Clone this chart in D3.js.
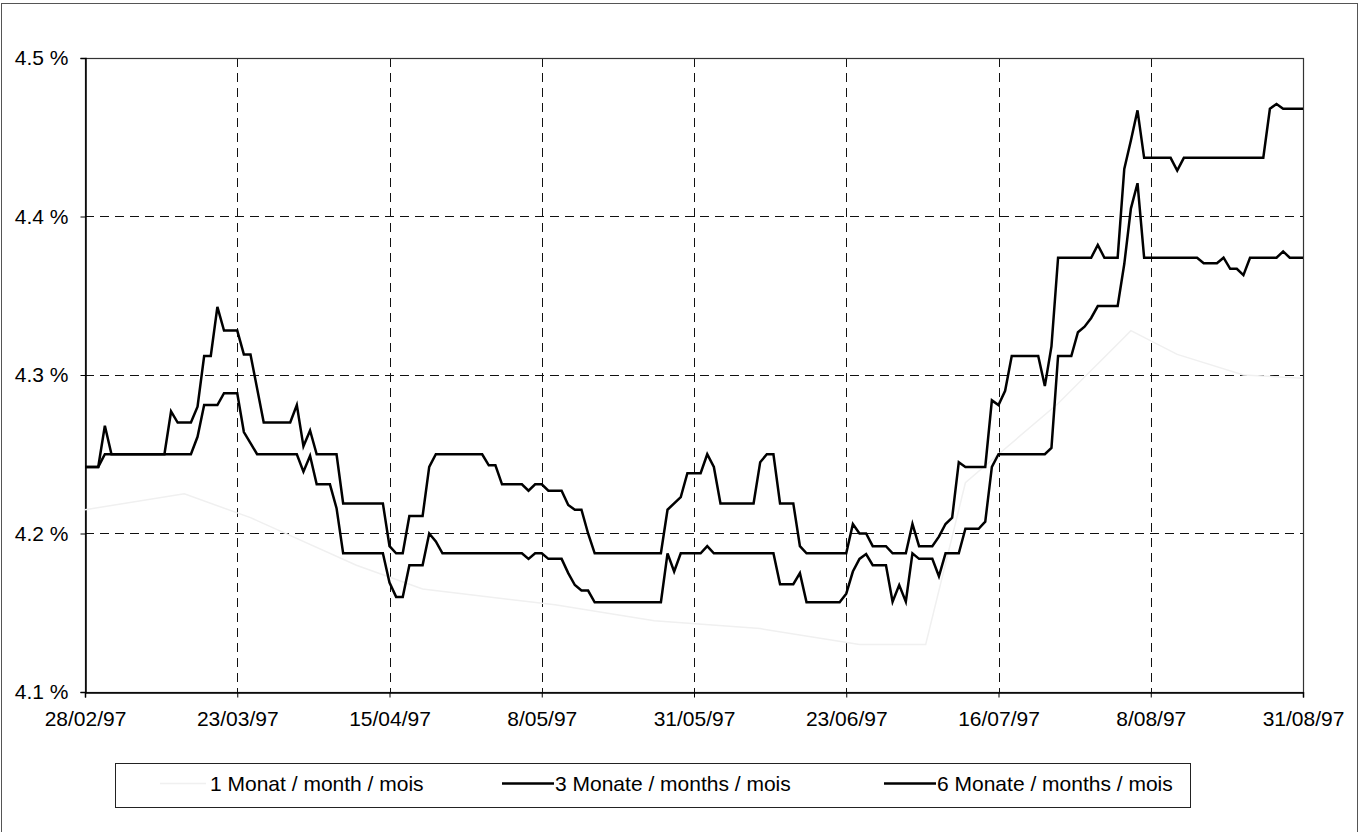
<!DOCTYPE html>
<html>
<head>
<meta charset="utf-8">
<script src="https://cdn.jsdelivr.net/npm/d3@7"></script>
<style>
  html, body { margin: 0; padding: 0; background: #fff; }
  svg { display: block; }
  text { font-family: "Liberation Sans", Arial, sans-serif; fill: #000; }
</style>
</head>
<body>
<svg id="chart" width="1371" height="832"></svg>
<script>
// ---- Data ----
const tickDates = ["28/02/97","23/03/97","15/04/97","8/05/97","31/05/97","23/06/97","16/07/97","8/08/97","31/08/97"];
const yTicks = [4.1, 4.2, 4.3, 4.4, 4.5];
const seriesNames = ["1 Monat / month / mois", "3 Monate / months / mois", "6 Monate / months / mois"];

const dates1m = ["28/02/97","15/03/97","25/03/97","10/04/97","20/04/97","10/05/97","25/05/97","10/06/97","25/06/97","05/07/97","11/07/97","16/07/97","25/07/97","05/08/97","12/08/97","22/08/97","31/08/97"];
const values1m = [4.215,4.225,4.21,4.18,4.165,4.155,4.145,4.14,4.13,4.13,4.232,4.25,4.282,4.328,4.313,4.30,4.298];

const dates3m = ["28/02/97","02/03/97","03/03/97","16/03/97","17/03/97","18/03/97","20/03/97","21/03/97","23/03/97","24/03/97","25/03/97","26/03/97",
  "01/04/97","02/04/97","03/04/97","04/04/97","06/04/97","07/04/97","08/04/97","14/04/97","15/04/97","16/04/97","17/04/97","18/04/97","20/04/97","21/04/97","22/04/97","23/04/97",
  "05/05/97","06/05/97","07/05/97","08/05/97","09/05/97","11/05/97","12/05/97","13/05/97","14/05/97","15/05/97","16/05/97","26/05/97","27/05/97","28/05/97","29/05/97",
  "01/06/97","02/06/97","03/06/97","12/06/97","13/06/97","15/06/97","16/06/97","17/06/97","22/06/97","23/06/97","24/06/97","25/06/97","26/06/97","27/06/97","29/06/97","30/06/97",
  "01/07/97","02/07/97","03/07/97","04/07/97","06/07/97","07/07/97","08/07/97","10/07/97","11/07/97","13/07/97","14/07/97","15/07/97","16/07/97","23/07/97","24/07/97","25/07/97","27/07/97","28/07/97","29/07/97","30/07/97","31/07/97",
  "03/08/97","04/08/97","05/08/97","06/08/97","07/08/97","15/08/97","16/08/97","18/08/97","19/08/97","20/08/97","21/08/97","22/08/97","23/08/97","27/08/97","28/08/97","29/08/97","31/08/97"];
const values3m = [4.242,4.242,4.25,4.25,4.261,4.281,4.281,4.2885,4.2885,4.264,4.257,4.25,
  4.25,4.239,4.249,4.231,4.231,4.216,4.1875,4.1875,4.169,4.16,4.16,4.18,4.18,4.2,4.195,4.1875,
  4.1875,4.184,4.1875,4.1875,4.184,4.184,4.175,4.1675,4.164,4.164,4.1566,4.1566,4.1875,4.176,4.1875,
  4.1875,4.192,4.1875,4.1875,4.168,4.168,4.175,4.1566,4.1566,4.162,4.176,4.184,4.187,4.18,4.18,4.157,
  4.1675,4.157,4.1875,4.184,4.184,4.173,4.1875,4.1875,4.203,4.203,4.2075,4.242,4.25,4.25,4.254,4.312,4.312,4.327,4.3305,4.336,4.3435,
  4.3435,4.37,4.405,4.421,4.374,4.374,4.3705,4.3705,4.374,4.367,4.367,4.363,4.374,4.374,4.378,4.374,4.374];

const dates6m = ["28/02/97","02/03/97","03/03/97","04/03/97","12/03/97","13/03/97","14/03/97","16/03/97","17/03/97","18/03/97","19/03/97","20/03/97","21/03/97","23/03/97","24/03/97","25/03/97","27/03/97","31/03/97",
  "01/04/97","02/04/97","03/04/97","04/04/97","07/04/97","08/04/97","14/04/97","15/04/97","16/04/97","17/04/97","18/04/97","20/04/97","21/04/97","22/04/97","29/04/97","30/04/97",
  "01/05/97","02/05/97","05/05/97","06/05/97","07/05/97","08/05/97","09/05/97","11/05/97","12/05/97","13/05/97","14/05/97","15/05/97","16/05/97","26/05/97","27/05/97","29/05/97","30/05/97",
  "01/06/97","02/06/97","03/06/97","04/06/97","09/06/97","10/06/97","11/06/97","12/06/97","13/06/97","15/06/97","16/06/97","17/06/97","23/06/97","24/06/97","25/06/97","26/06/97","27/06/97","29/06/97","30/06/97",
  "02/07/97","03/07/97","04/07/97","06/07/97","07/07/97","08/07/97","09/07/97","10/07/97","11/07/97","14/07/97","15/07/97","16/07/97","17/07/97","18/07/97","22/07/97","23/07/97","24/07/97","25/07/97","30/07/97","31/07/97",
  "01/08/97","03/08/97","04/08/97","05/08/97","06/08/97","07/08/97","11/08/97","12/08/97","13/08/97","25/08/97","26/08/97","27/08/97","28/08/97","31/08/97"];
const values6m = [4.242,4.242,4.268,4.25,4.25,4.277,4.27,4.27,4.28,4.312,4.312,4.343,4.328,4.328,4.313,4.313,4.27,4.27,
  4.281,4.255,4.265,4.25,4.25,4.219,4.219,4.192,4.1875,4.1875,4.211,4.211,4.242,4.25,4.25,4.243,
  4.243,4.231,4.231,4.227,4.231,4.231,4.227,4.227,4.218,4.215,4.215,4.2,4.1875,4.1875,4.215,4.223,4.238,
  4.238,4.25,4.242,4.219,4.219,4.245,4.25,4.25,4.219,4.219,4.192,4.1875,4.1875,4.206,4.2,4.2,4.192,4.192,4.1875,
  4.1875,4.206,4.192,4.192,4.198,4.206,4.21,4.245,4.242,4.242,4.284,4.281,4.29,4.312,4.312,4.293,4.318,4.374,4.374,4.382,
  4.374,4.374,4.43,4.448,4.467,4.437,4.437,4.429,4.437,4.437,4.468,4.471,4.468,4.468];

// ---- Chart ----
const parse = d3.timeParse("%d/%m/%y");
const svg = d3.select("#chart");
const plot = { left: 85, right: 1303, top: 58, bottom: 692 };
const FONT = "'Liberation Sans', Arial, sans-serif";

// outer chart border
svg.append("rect").attr("x", 1.5).attr("y", 3.5).attr("width", 1356).attr("height", 840)
  .attr("fill", "none").attr("stroke", "#555").attr("stroke-width", 1);

const x = d3.scaleTime()
  .domain([parse(tickDates[0]), parse(tickDates[tickDates.length - 1])])
  .range([plot.left, plot.right]);
const y = d3.scaleLinear().domain([4.1, 4.5]).range([plot.bottom, plot.top]);

const tickVals = tickDates.map(parse);

// gridlines
const grid = svg.append("g");
grid.selectAll("line.h").data(yTicks.filter(v => v > 4.1 && v < 4.5)).join("line")
  .attr("x1", plot.left).attr("x2", plot.right)
  .attr("y1", d => Math.round(y(d)) + 0.5).attr("y2", d => Math.round(y(d)) + 0.5)
  .attr("stroke", "#111").attr("stroke-width", 1).attr("stroke-dasharray", "9,6");
grid.selectAll("line.v").data(tickVals.slice(1, -1)).join("line")
  .attr("x1", d => Math.round(x(d)) + 0.5).attr("x2", d => Math.round(x(d)) + 0.5)
  .attr("y1", plot.top).attr("y2", plot.bottom)
  .attr("stroke", "#111").attr("stroke-width", 1).attr("stroke-dasharray", "9,6");

// plot frame
svg.append("rect").attr("x", plot.left + 0.5).attr("y", plot.top + 0.5)
  .attr("width", plot.right - plot.left).attr("height", plot.bottom - plot.top)
  .attr("fill", "none").attr("stroke", "#333").attr("stroke-width", 1.2);

// axes
const xAxis = d3.axisBottom(x).tickValues(tickVals)
  .tickFormat((d, i) => tickDates[i]).tickSize(5).tickPadding(14);
const gx = svg.append("g").attr("transform", `translate(0,${plot.bottom + 0.5})`).call(xAxis);
gx.select(".domain").attr("stroke", "#000").attr("stroke-width", 1.5);
gx.selectAll(".tick line").attr("stroke", "#000");
gx.selectAll("text").style("font-size", "21px").style("font-family", FONT);

const yAxis = d3.axisLeft(y).tickValues(yTicks)
  .tickFormat(d => d3.format(".1f")(d) + " %").tickSize(5).tickPadding(12);
const gy = svg.append("g").attr("transform", `translate(${plot.left + 0.5},0)`).call(yAxis);
gy.select(".domain").attr("stroke", "#000").attr("stroke-width", 1.5);
gy.selectAll(".tick line").attr("stroke", "#000");
gy.selectAll("text").style("font-size", "21px").style("font-family", FONT);

// lines
const line = d3.line().x(d => x(d.date)).y(d => y(d.value)).curve(d3.curveLinear);
const mk = (ds, vs) => ds.map((d, i) => ({ date: parse(d), value: vs[i] }));
const series = [
  { data: mk(dates1m, values1m), color: "#f0f0f0", width: 1.5 },
  { data: mk(dates3m, values3m), color: "#000", width: 2.5 },
  { data: mk(dates6m, values6m), color: "#000", width: 2.5 }
];
series.forEach(s => {
  svg.append("path").datum(s.data).attr("d", line)
    .attr("fill", "none").attr("stroke", s.color).attr("stroke-width", s.width)
    .attr("stroke-linejoin", "miter");
});

// legend
const lg = svg.append("g");
lg.append("rect").attr("x", 115.5).attr("y", 763.5).attr("width", 1075).attr("height", 44)
  .attr("fill", "#fff").attr("stroke", "#222").attr("stroke-width", 1);
const legendItems = [
  { x1: 160, x2: 206, tx: 210 },
  { x1: 502, x2: 554, tx: 555 },
  { x1: 884, x2: 936, tx: 937 }
];
legendItems.forEach((it, i) => {
  lg.append("line").attr("x1", it.x1).attr("x2", it.x2).attr("y1", 783.5).attr("y2", 783.5)
    .attr("stroke", series[i].color).attr("stroke-width", series[i].width);
  lg.append("text").attr("x", it.tx).attr("y", 791).style("font-size", "21px").text(seriesNames[i]);
});
</script>
</body>
</html>
